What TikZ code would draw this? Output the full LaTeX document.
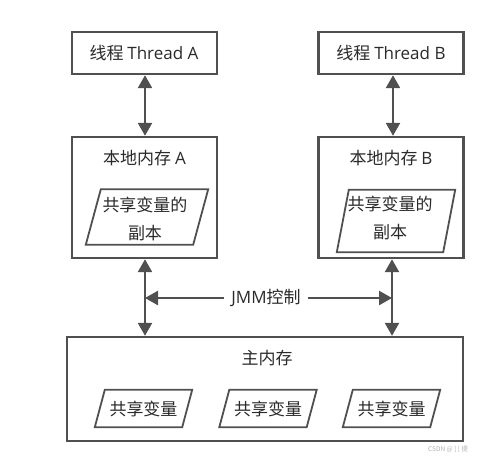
\documentclass[tikz,border=0pt]{standalone}
\usepackage{fontspec}
\setmainfont{Noto Sans CJK SC}
\newfontfamily\lat{Open Sans}
\usetikzlibrary{arrows.meta}
\definecolor{ln}{HTML}{505050}
\definecolor{tx}{HTML}{2a2a2a}
\newcommand{\mypara}[2]{\draw[paraline] ([xshift=#2]#1.north west) -- (#1.north east) -- ([xshift=-#2]#1.south east) -- (#1.south west) -- cycle;}
\begin{document}
\begin{tikzpicture}[x=1pt,y=-1pt,
  box/.style={draw=ln,line width=2.4pt,rectangle,inner sep=0pt},
  paraline/.style={draw=ln,line width=1.8pt,line join=miter},
  parabox/.style={rectangle,inner sep=0pt},
  lbl/.style={text=tx,font=\fontsize{17}{20}\selectfont,inner sep=0pt},
  conn/.style={draw=ln,line width=2.5pt,{Triangle[length=13pt,width=14pt]}-{Triangle[length=13pt,width=14pt]}},
  conno/.style={draw=ln,line width=2.5pt,-{Triangle[length=13pt,width=14pt]}}]
\useasboundingbox (0,0) rectangle (499,458);
\fill[white] (0,0) rectangle (499,458);
% threads
\node[box,minimum width=145pt,minimum height=42pt] (thA) at (144.5,53) {};
\node[lbl] (thAl) at (144,53) {线程 {\lat Thread A}};
\node[box,minimum width=145pt,minimum height=42pt] (thB) at (391,53) {};
\node[lbl] (thBl) at (391,53) {线程 {\lat Thread B}};
% local memories
\node[box,minimum width=145pt,minimum height=121pt] (locA) at (144.5,197.5) {};
\node[lbl] (locAl) at (144.5,158) {本地内存 {\lat A}};
\node[parabox,minimum width=122pt,minimum height=55pt] (parA) at (147,217) {};
\mypara{parA}{15pt}
\node[lbl,align=center] (parAl) at (145,219) {共享变量的\\[8pt]副本};
\node[box,minimum width=145pt,minimum height=121pt] (locB) at (391,197.5) {};
\node[lbl] (locBl) at (391,158) {本地内存 {\lat B}};
\node[parabox,minimum width=118pt,minimum height=62pt] (parB) at (396,221) {};
\mypara{parB}{12pt}
\node[lbl,align=center] (parBl) at (390,218) {共享变量的\\[8pt]副本};
% main memory
\node[box,minimum width=396pt,minimum height=104pt] (main) at (265,389) {};
\node[lbl] (mainl) at (267,358) {主内存};
\node[parabox,minimum width=97pt,minimum height=37pt] (v1) at (143.5,408.5) {};
\mypara{v1}{10pt}
\node[lbl] (v1l) at (143.5,408.5) {共享变量};
\node[parabox,minimum width=97pt,minimum height=37pt] (v2) at (268,408.5) {};
\mypara{v2}{10pt}
\node[lbl] (v2l) at (268,408.5) {共享变量};
\node[parabox,minimum width=97pt,minimum height=37pt] (v3) at (391.5,408.5) {};
\mypara{v3}{10pt}
\node[lbl] (v3l) at (391.5,408.5) {共享变量};
% JMM label
\node[lbl,inner xsep=7pt] (jmm) at (266,298) {{\lat JMM}控制};
% connectors
\draw[conn] ([xshift=0.5pt]thA.south) -- ([xshift=0.5pt]locA.north);
\draw[conn] ([xshift=2pt]thB.south) -- ([xshift=2pt]thB.south |- locB.north);
\draw[conn] ([xshift=0.5pt]locA.south) -- ([xshift=0.5pt]locA.south |- main.north);
\draw[conn] ([xshift=1pt]locB.south) -- ([xshift=1pt]locB.south |- main.north);
\draw[conno] (jmm.west) -- ([xshift=0.5pt]jmm.west -| locA.south);
\draw[conno] (jmm.east) -- ([xshift=1pt]jmm.east -| locB.south);
% watermark
\node[anchor=west,text=black!30,font=\fontsize{6.5}{8}\selectfont,inner sep=0pt] (wm) at (428,449) {CSDN @ ] [ 提};
\end{tikzpicture}
\end{document}
